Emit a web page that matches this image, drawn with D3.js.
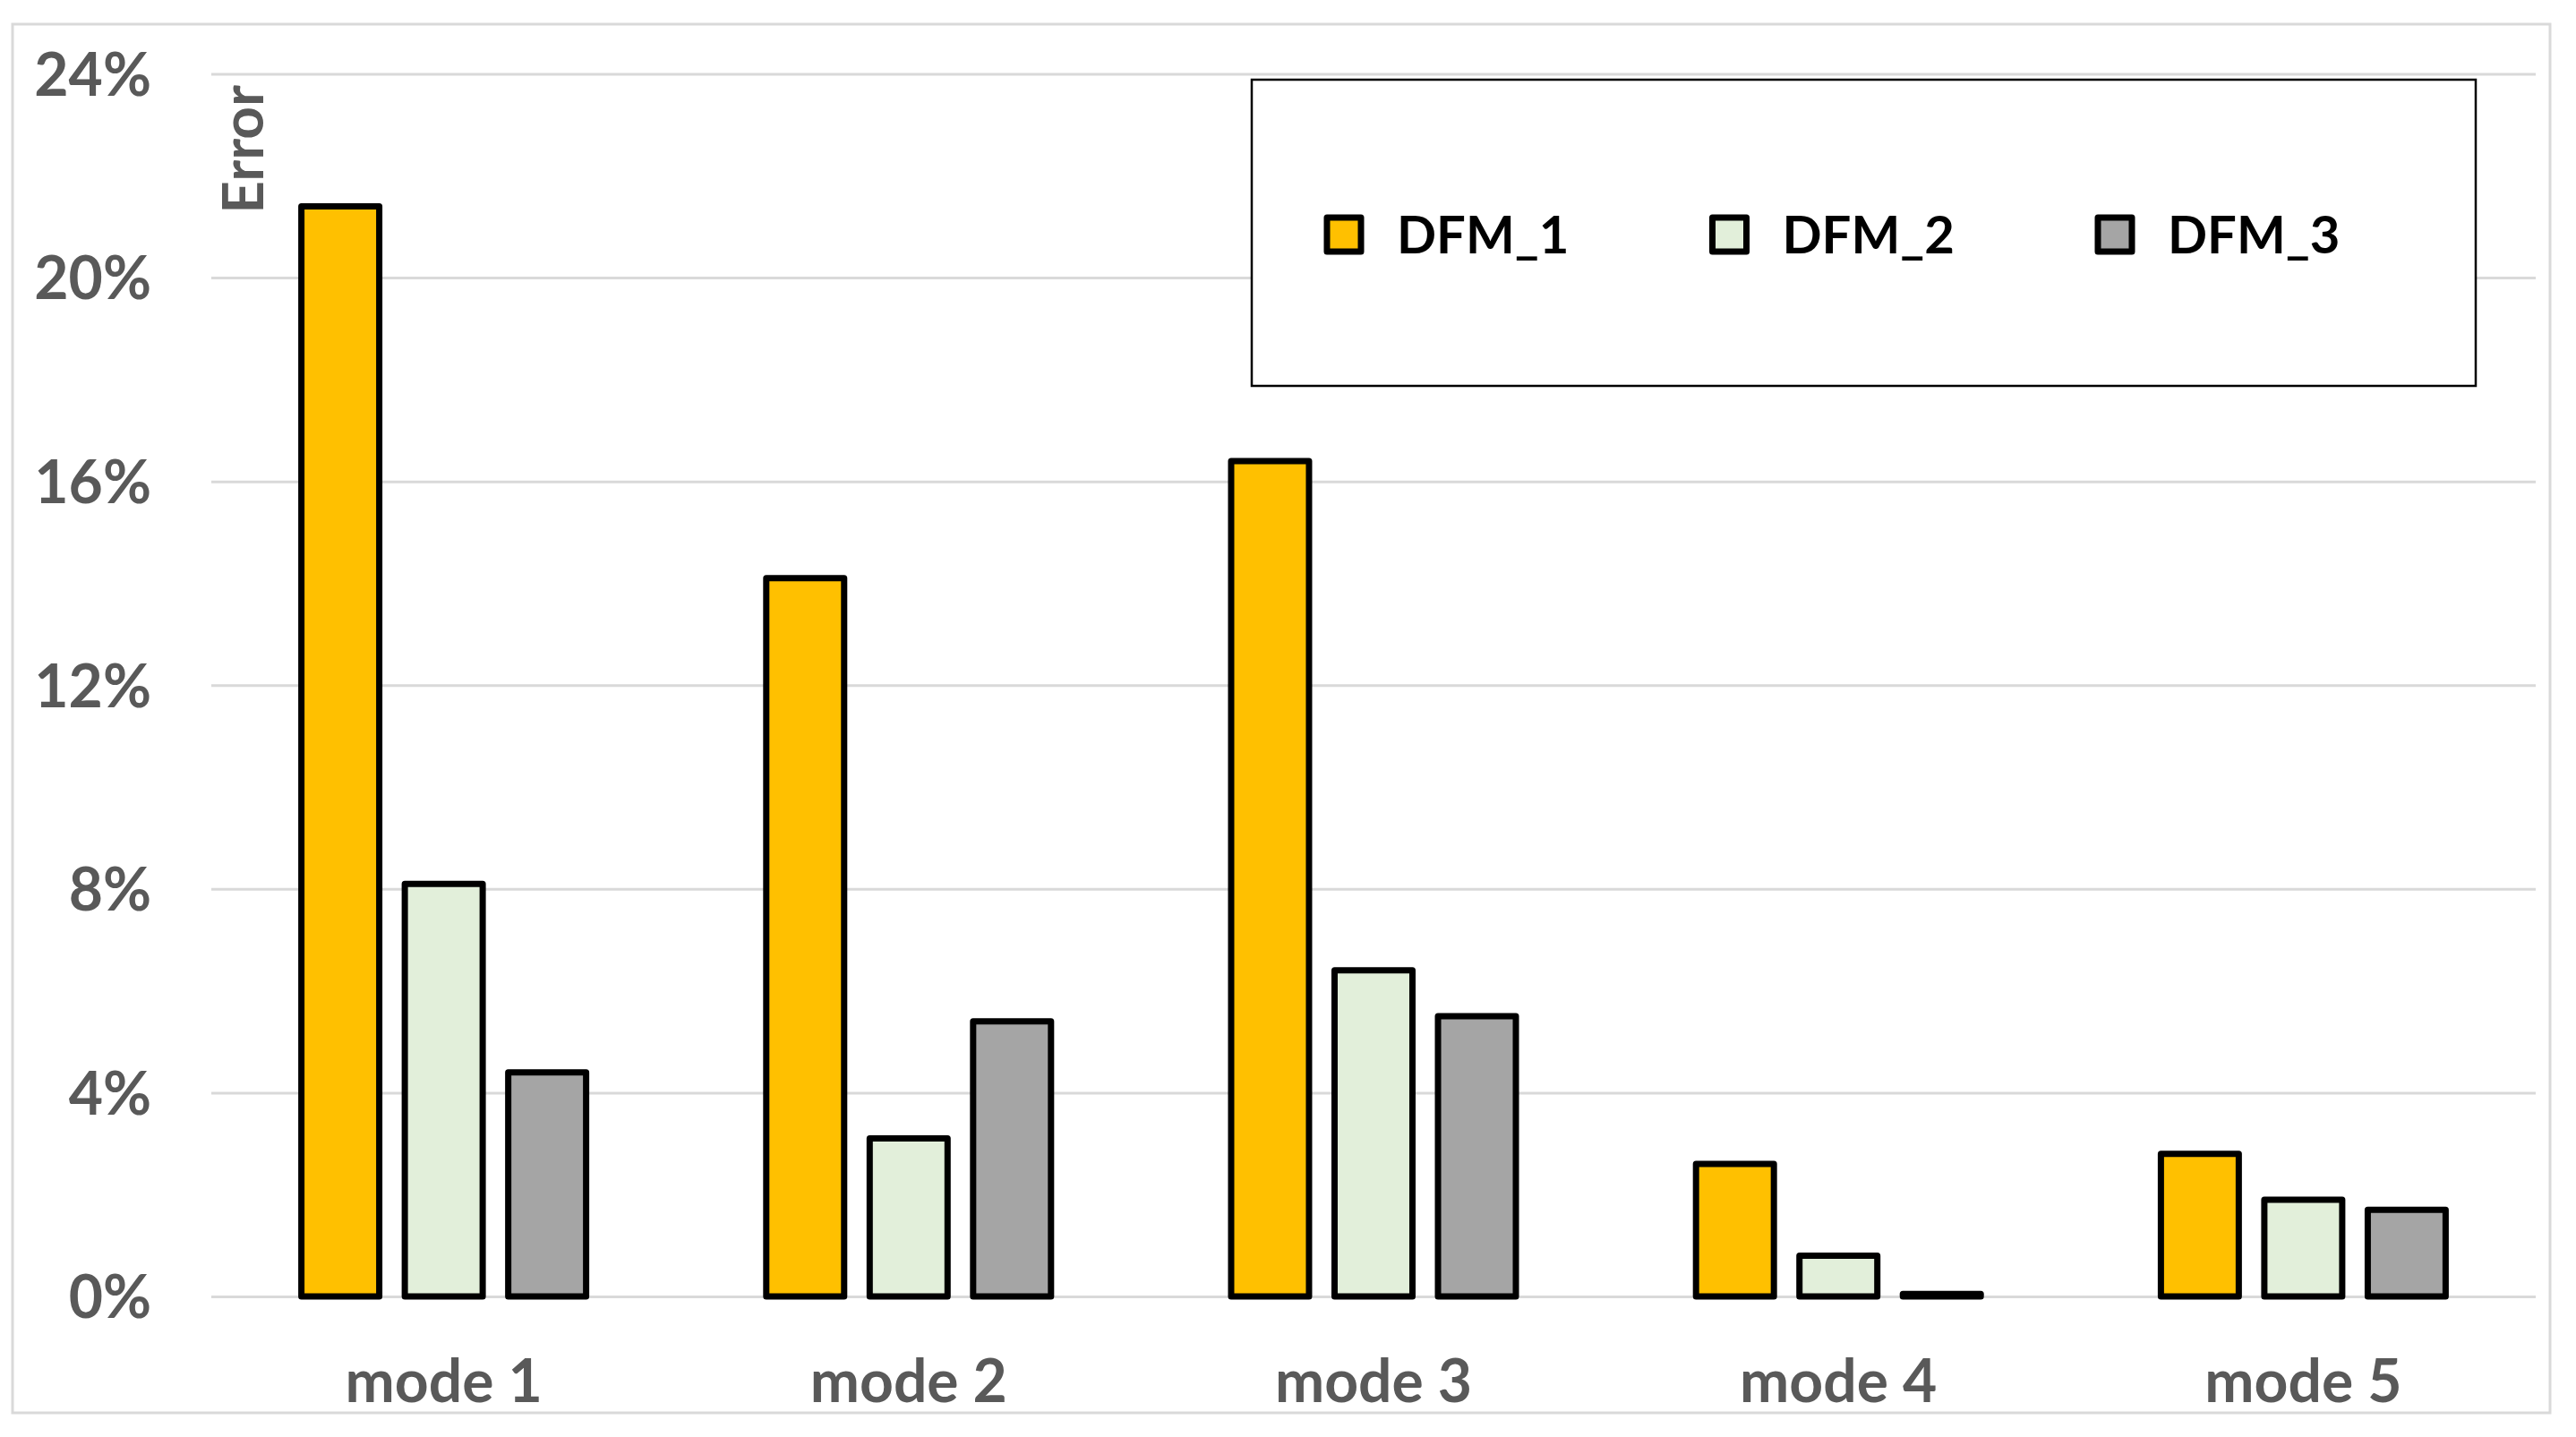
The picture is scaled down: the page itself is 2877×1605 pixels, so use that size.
<!DOCTYPE html>
<html><head><meta charset="utf-8">
<script src="https://cdn.jsdelivr.net/npm/d3@7"></script>
<style>
html,body{margin:0;padding:0;background:#fff;}
svg{display:block;font-family:Lato,"Open Sans",sans-serif;}
</style>
</head><body>
<svg id="chart" width="2877" height="1605"></svg>
<script>
// ---- data ----
const categories = ["mode 1", "mode 2", "mode 3", "mode 4", "mode 5"];
const seriesNames = ["DFM_1", "DFM_2", "DFM_3"];
const dfm1 = [21.4, 14.1, 16.4, 2.6, 2.8];
const dfm2 = [8.1, 3.1, 6.4, 0.8, 1.9];
const dfm3 = [4.4, 5.4, 5.5, 0.05, 1.7];
const seriesColors = ["#FFC000", "#E2EFDA", "#A5A5A5"];
const yTicks = [0, 4, 8, 12, 16, 20, 24];
const yTickLabels = ["0%", "4%", "8%", "12%", "16%", "20%", "24%"];
const yTitle = "Error";

const seriesValues = [dfm1, dfm2, dfm3];
const rows = categories.map((c, i) => ({
  cat: c,
  vals: seriesNames.map((s, j) => ({ s, j, v: seriesValues[j][i] }))
}));

const FONT = "Lato, 'Open Sans', sans-serif";
const W = 700;
const svg = d3.select("#chart");
const plot = { left: 236, right: 2832, top: 82.5, bottom: 1448 };

// outer chart border
svg.append("rect").attr("x", 14).attr("y", 27).attr("width", 2834).attr("height", 1551)
  .attr("fill", "#fff").attr("stroke", "#D9D9D9").attr("stroke-width", 3);

const y = d3.scaleLinear().domain([0, 24]).range([plot.bottom, plot.top]);
const x0 = d3.scaleBand().domain(categories).range([plot.left, plot.right])
  .paddingInner(0.3875).paddingOuter(0.19375);
const x1 = d3.scaleBand().domain(seriesNames).range([0, x0.bandwidth()])
  .paddingInner(0.247).paddingOuter(0);
const color = d3.scaleOrdinal().domain(seriesNames).range(seriesColors);

// gridlines + y tick labels
const yAxis = d3.axisLeft(y).tickValues(yTicks)
  .tickSize(-(plot.right - plot.left))
  .tickPadding(67)
  .tickFormat((d, i) => yTickLabels[i]);
const gy = svg.append("g").attr("transform", `translate(${plot.left},0)`).call(yAxis)
  .attr("font-family", FONT);
gy.select(".domain").remove();
gy.selectAll(".tick line").attr("stroke", "#D9D9D9").attr("stroke-width", 3);
gy.selectAll(".tick text").attr("fill", "#595959").attr("font-size", 66)
  .attr("font-family", FONT)
  .attr("font-weight", W).attr("dy", "0.36em").attr("x", -67);

// bars
const groups = svg.append("g").selectAll("g").data(rows).join("g")
  .attr("transform", d => `translate(${x0(d.cat)},0)`);
groups.selectAll("rect").data(d => d.vals).join("rect")
  .attr("x", d => x1(d.s))
  .attr("width", x1.bandwidth())
  .attr("y", d => y(d.v))
  .attr("height", d => y(0) - y(d.v))
  .attr("fill", d => color(d.s))
  .attr("stroke", "#000").attr("stroke-width", 7)
  .attr("stroke-linejoin", "round");

// x axis labels
const xAxis = d3.axisBottom(x0).tickSize(0).tickPadding(0);
const gx = svg.append("g").attr("transform", `translate(0,${plot.bottom})`).call(xAxis)
  .attr("font-family", FONT);
gx.select(".domain").remove();
gx.selectAll(".tick text").attr("fill", "#595959").attr("font-size", 66)
  .attr("font-family", FONT)
  .attr("font-weight", W).attr("y", 118).attr("dy", 0);

// y title
svg.append("text").attr("transform", "translate(294,167) rotate(-90)")
  .attr("text-anchor", "middle").attr("fill", "#595959")
  .attr("font-family", FONT)
  .attr("font-size", 64).attr("font-weight", W).text(yTitle);

// legend
const lg = svg.append("g");
lg.append("rect").attr("x", 1398).attr("y", 89).attr("width", 1367).attr("height", 342)
  .attr("fill", "#fff").attr("stroke", "#000").attr("stroke-width", 2.5);
const lx = d3.scalePoint().domain(seriesNames).range([1501, 2362]);
const items = lg.selectAll("g.item").data(seriesNames).join("g").attr("class", "item")
  .attr("transform", d => `translate(${lx(d)},262)`);
items.append("rect").attr("x", -19).attr("y", -19).attr("width", 38).attr("height", 38)
  .attr("fill", d => color(d)).attr("stroke", "#000").attr("stroke-width", 7)
  .attr("stroke-linejoin", "round");
items.append("text").attr("x", 59).attr("y", 21).attr("fill", "#000")
  .attr("font-family", FONT)
  .attr("font-size", 58).attr("font-weight", W).text(d => d);
</script>
</body></html>
